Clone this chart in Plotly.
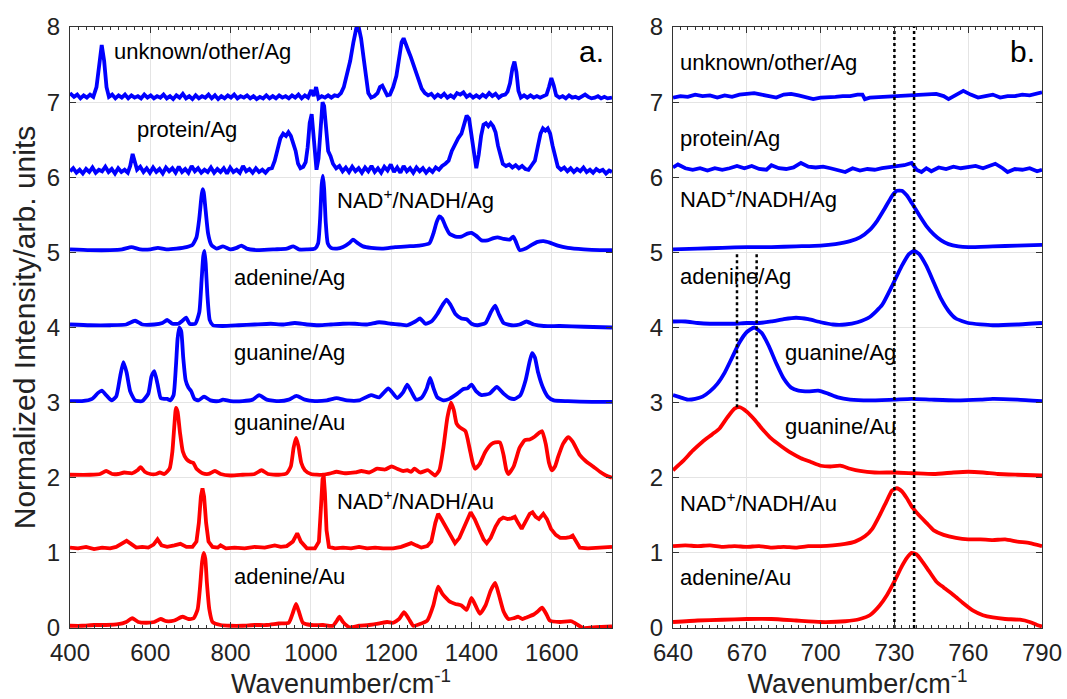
import plotly.graph_objects as go

BLUE = "#0000ff"
RED = "#ff0000"

# ---------------- panel a (400-1750 cm-1) ----------------
unk_a_x = [400,410,418,426,434,442,450,458,466,472,479,485,491,497,505,513,521,529,537,545,553,561,569,577,585,593,601,609,617,625,633,641,649,657,665,673,681,689,697,705,713,721,729,737,745,753,761,769,777,785,793,801,809,817,825,833,841,849,857,865,873,881,889,897,905,913,921,929,937,945,953,961,969,977,985,993,1001,1007,1013,1019,1027,1035,1043,1051,1059,1067,1075,1082,1090,1098,1106,1113,1119,1125,1131,1137,1143,1150,1158,1166,1172,1178,1184,1190,1197,1205,1213,1220,1226,1231,1237,1243,1249,1255,1261,1268,1276,1284,1292,1300,1308,1316,1324,1332,1340,1348,1356,1364,1372,1380,1388,1396,1404,1412,1420,1428,1436,1444,1452,1460,1468,1476,1484,1490,1496,1502,1507,1512,1517,1523,1531,1539,1547,1555,1563,1571,1579,1587,1593,1599,1605,1611,1619,1627,1635,1643,1651,1659,1667,1675,1683,1691,1699,1707,1715,1723,1731,1739,1750]
unk_a_y = [7.12,7.07,7.10,7.05,7.09,7.06,7.10,7.07,7.20,7.50,7.76,7.55,7.20,7.07,7.10,7.05,7.09,7.06,7.10,7.05,7.09,7.06,7.08,7.05,7.10,7.06,7.09,7.05,7.08,7.06,7.10,7.05,7.08,7.04,7.09,7.06,7.11,7.05,7.08,7.04,7.09,7.05,7.08,7.06,7.10,7.05,7.09,7.04,7.08,7.05,7.09,7.06,7.10,7.05,7.08,7.06,7.09,7.05,7.08,7.04,7.07,7.05,7.09,7.05,7.08,7.05,7.09,7.06,7.08,7.05,7.09,7.06,7.10,7.05,7.09,7.06,7.16,7.08,7.20,7.05,7.08,7.06,7.09,7.06,7.09,7.08,7.12,7.20,7.38,7.55,7.80,7.98,8.00,7.85,7.60,7.35,7.12,7.06,7.08,7.12,7.20,7.22,7.15,7.09,7.10,7.20,7.35,7.60,7.80,7.85,7.78,7.68,7.60,7.50,7.42,7.30,7.18,7.12,7.09,7.11,7.06,7.10,7.07,7.11,7.06,7.09,7.06,7.12,7.10,7.13,7.07,7.10,7.06,7.09,7.06,7.10,7.07,7.12,7.08,7.11,7.06,7.09,7.10,7.14,7.25,7.45,7.54,7.40,7.15,7.06,7.09,7.06,7.09,7.06,7.08,7.06,7.08,7.10,7.20,7.32,7.22,7.09,7.06,7.08,7.05,7.09,7.06,7.07,7.05,7.08,7.10,7.07,7.05,7.06,7.08,7.05,7.07,7.05,7.06]

prot_a_x = [400,408,416,424,432,440,448,456,464,472,480,488,496,504,512,520,528,536,544,550,556,561,567,575,583,591,599,607,615,623,631,639,647,655,663,671,679,687,695,703,711,719,727,735,743,751,759,767,775,783,791,799,807,815,823,831,839,847,855,863,871,879,887,895,903,910,917,924,931,938,944,950,956,962,968,974,981,987,992,997,1002,1006,1010,1014,1019,1024,1029,1033,1038,1043,1049,1055,1063,1071,1079,1087,1095,1103,1111,1119,1127,1135,1143,1151,1159,1167,1175,1183,1191,1199,1207,1215,1223,1231,1239,1247,1255,1263,1271,1279,1287,1295,1303,1311,1319,1327,1335,1343,1351,1359,1367,1375,1382,1388,1394,1400,1406,1412,1418,1424,1430,1436,1442,1448,1454,1460,1466,1472,1478,1486,1494,1502,1510,1518,1526,1534,1542,1550,1558,1565,1572,1578,1584,1590,1596,1602,1608,1615,1623,1631,1639,1647,1655,1663,1671,1679,1687,1695,1703,1711,1719,1727,1735,1743,1750]
prot_a_y = [6.08,6.12,6.06,6.10,6.05,6.11,6.07,6.13,6.06,6.10,6.08,6.14,6.07,6.11,6.05,6.12,6.07,6.10,6.06,6.15,6.31,6.20,6.10,6.14,6.07,6.12,6.06,6.13,6.07,6.11,6.05,6.13,6.08,6.12,6.06,6.14,6.07,6.11,6.06,6.15,6.08,6.12,6.06,6.10,6.07,6.13,6.06,6.11,6.07,6.12,6.05,6.13,6.07,6.10,6.06,6.15,6.08,6.11,6.06,6.12,6.07,6.10,6.06,6.11,6.12,6.22,6.40,6.52,6.58,6.55,6.60,6.55,6.45,6.35,6.18,6.12,6.14,6.20,6.40,6.72,6.84,6.60,6.25,6.10,6.25,6.70,7.00,6.95,6.60,6.35,6.28,6.18,6.12,6.15,6.08,6.13,6.07,6.14,6.08,6.12,6.06,6.13,6.08,6.15,6.07,6.12,6.06,6.14,6.09,6.17,6.07,6.13,6.06,6.15,6.08,6.12,6.06,6.13,6.08,6.12,6.06,6.11,6.07,6.13,6.10,6.15,6.18,6.22,6.35,6.45,6.52,6.58,6.70,6.82,6.78,6.55,6.32,6.12,6.30,6.55,6.70,6.72,6.68,6.72,6.68,6.60,6.42,6.28,6.18,6.15,6.17,6.13,6.16,6.12,6.15,6.11,6.10,6.16,6.22,6.40,6.58,6.65,6.62,6.65,6.58,6.42,6.28,6.14,6.10,6.13,6.08,6.12,6.07,6.11,6.08,6.13,6.07,6.10,6.06,6.11,6.08,6.10,6.05,6.09,6.07]

nadag_a_x = [400,450,500,530,553,575,600,619,640,665,690,705,715,722,727,730,733,738,744,752,765,781,800,815,827,840,870,910,940,956,970,990,1010,1018,1023,1027,1030,1033,1037,1042,1050,1065,1080,1095,1105,1115,1130,1150,1180,1210,1240,1270,1295,1305,1313,1320,1327,1335,1345,1360,1375,1390,1400,1412,1425,1440,1455,1465,1480,1495,1504,1510,1520,1535,1550,1565,1580,1595,1615,1640,1680,1720,1750]
nadag_a_y = [5.04,5.03,5.03,5.04,5.07,5.04,5.04,5.06,5.04,5.05,5.07,5.10,5.20,5.45,5.72,5.84,5.80,5.55,5.25,5.10,5.05,5.08,5.04,5.06,5.09,5.05,5.03,5.04,5.05,5.08,5.04,5.04,5.05,5.12,5.45,5.90,6.02,5.85,5.40,5.12,5.06,5.05,5.07,5.12,5.17,5.13,5.08,5.06,5.05,5.07,5.08,5.09,5.12,5.25,5.40,5.48,5.45,5.35,5.25,5.21,5.21,5.25,5.26,5.22,5.16,5.16,5.19,5.20,5.18,5.17,5.21,5.15,5.03,5.05,5.10,5.14,5.15,5.13,5.09,5.06,5.04,5.03,5.03]

adeag_a_x = [400,450,500,540,562,580,610,630,642,655,670,680,689,698,712,722,728,732,735,738,742,748,756,780,820,860,900,930,960,990,1020,1050,1080,1110,1140,1170,1200,1220,1240,1260,1272,1285,1300,1315,1328,1338,1348,1360,1375,1388,1400,1415,1435,1448,1459,1468,1480,1500,1520,1537,1555,1580,1620,1680,1750]
adeag_a_y = [4.04,4.03,4.03,4.04,4.09,4.04,4.04,4.06,4.10,4.05,4.05,4.09,4.13,4.05,4.05,4.20,4.65,4.95,5.02,4.85,4.45,4.10,4.03,4.02,4.03,4.04,4.05,4.04,4.06,4.04,4.03,4.04,4.05,4.05,4.04,4.07,4.05,4.04,4.03,4.08,4.12,4.05,4.08,4.18,4.30,4.37,4.30,4.18,4.12,4.11,4.05,4.03,4.06,4.20,4.29,4.18,4.06,4.03,4.04,4.08,4.04,4.02,4.02,4.01,4.00]

guaag_a_x = [400,430,455,470,479,490,503,515,525,533,541,550,562,580,595,603,610,618,626,635,642,650,658,664,668,672,677,682,688,695,702,710,720,734,750,770,781,800,830,855,871,890,920,945,964,985,1010,1040,1064,1090,1120,1150,1170,1193,1215,1230,1240,1250,1262,1275,1288,1297,1305,1315,1330,1345,1365,1380,1390,1400,1412,1425,1445,1463,1480,1495,1508,1522,1535,1545,1551,1558,1566,1578,1590,1605,1640,1700,1750]
guaag_a_y = [3.02,3.02,3.05,3.13,3.16,3.10,3.03,3.08,3.35,3.54,3.40,3.15,3.03,3.02,3.12,3.35,3.42,3.25,3.06,3.05,3.05,3.03,3.10,3.50,3.85,4.00,3.95,3.60,3.30,3.20,3.15,3.05,3.03,3.08,3.03,3.02,3.04,3.02,3.02,3.04,3.10,3.04,3.02,3.04,3.09,3.04,3.02,3.03,3.06,3.03,3.03,3.10,3.07,3.19,3.06,3.14,3.24,3.15,3.04,3.06,3.18,3.33,3.20,3.07,3.03,3.05,3.12,3.18,3.19,3.24,3.15,3.10,3.12,3.21,3.12,3.06,3.05,3.10,3.30,3.55,3.66,3.60,3.40,3.20,3.08,3.03,3.02,3.01,3.01]

guaau_a_x = [400,450,475,490,505,520,535,555,568,576,586,600,615,624,635,648,655,660,664,668,674,681,690,700,707,715,730,745,761,775,800,830,860,877,893,920,940,950,957,963,969,976,985,1000,1030,1050,1064,1085,1110,1126,1145,1165,1185,1201,1215,1230,1240,1250,1258,1272,1292,1309,1320,1330,1340,1349,1356,1363,1371,1385,1395,1403,1409,1420,1435,1450,1459,1471,1480,1487,1492,1505,1520,1533,1545,1558,1569,1576,1585,1593,1600,1608,1616,1628,1641,1652,1662,1670,1685,1703,1720,1735,1750]
guaau_a_y = [2.04,2.04,2.05,2.09,2.05,2.05,2.07,2.06,2.10,2.14,2.08,2.05,2.05,2.07,2.05,2.12,2.35,2.70,2.93,2.88,2.60,2.35,2.25,2.21,2.20,2.12,2.06,2.05,2.09,2.05,2.03,2.04,2.05,2.10,2.05,2.04,2.06,2.15,2.40,2.53,2.42,2.20,2.10,2.05,2.04,2.06,2.08,2.06,2.07,2.09,2.07,2.12,2.11,2.15,2.12,2.09,2.10,2.08,2.12,2.07,2.10,2.03,2.10,2.40,2.80,3.00,2.90,2.72,2.67,2.62,2.40,2.20,2.12,2.18,2.35,2.45,2.47,2.47,2.30,2.10,2.05,2.15,2.40,2.50,2.51,2.55,2.60,2.62,2.45,2.20,2.10,2.15,2.28,2.45,2.54,2.48,2.38,2.30,2.22,2.15,2.08,2.03,2.00]

nadau_a_x = [400,420,440,460,480,500,515,530,541,552,565,580,595,608,618,628,642,660,675,690,705,715,721,726,730,734,739,745,755,768,775,788,810,835,860,885,910,925,940,955,966,975,990,1010,1020,1025,1029,1032,1035,1039,1045,1060,1080,1100,1120,1140,1160,1180,1205,1225,1240,1250,1262,1275,1290,1300,1310,1317,1325,1340,1352,1359,1370,1385,1398,1408,1420,1430,1438,1448,1460,1470,1479,1490,1500,1508,1516,1525,1535,1545,1552,1560,1568,1579,1588,1598,1610,1621,1635,1645,1652,1660,1670,1690,1710,1730,1750]
nadau_a_y = [1.07,1.06,1.08,1.05,1.07,1.06,1.08,1.13,1.16,1.12,1.07,1.08,1.07,1.11,1.18,1.10,1.08,1.10,1.12,1.08,1.08,1.15,1.40,1.75,1.86,1.75,1.40,1.15,1.08,1.07,1.10,1.06,1.07,1.06,1.08,1.07,1.10,1.08,1.09,1.15,1.26,1.15,1.06,1.06,1.15,1.60,1.98,2.02,1.80,1.30,1.08,1.06,1.07,1.06,1.08,1.06,1.07,1.06,1.06,1.08,1.11,1.13,1.10,1.07,1.09,1.15,1.40,1.52,1.45,1.30,1.18,1.13,1.20,1.40,1.54,1.45,1.30,1.18,1.13,1.20,1.35,1.44,1.47,1.45,1.46,1.48,1.40,1.32,1.42,1.52,1.54,1.48,1.45,1.52,1.45,1.32,1.24,1.20,1.20,1.21,1.23,1.15,1.07,1.06,1.07,1.07,1.08]

adeau_a_x = [400,430,460,490,520,540,555,570,590,610,626,640,660,680,695,708,718,724,729,733,737,741,747,755,775,800,830,860,890,920,945,955,963,970,980,1000,1030,1055,1065,1071,1080,1096,1120,1145,1171,1190,1205,1220,1232,1244,1255,1270,1290,1305,1317,1328,1340,1346,1360,1375,1388,1400,1410,1421,1435,1448,1459,1468,1480,1492,1505,1516,1527,1537,1555,1565,1576,1587,1595,1620,1649,1665,1678,1710,1750]
adeau_a_y = [0.03,0.03,0.04,0.04,0.05,0.08,0.13,0.08,0.07,0.08,0.12,0.09,0.10,0.15,0.12,0.13,0.25,0.55,0.88,1.00,0.92,0.60,0.25,0.08,0.04,0.03,0.03,0.04,0.04,0.06,0.07,0.20,0.32,0.22,0.07,0.04,0.04,0.03,0.10,0.15,0.08,0.01,0.03,0.04,0.06,0.08,0.07,0.12,0.21,0.12,0.03,0.05,0.10,0.30,0.55,0.45,0.38,0.35,0.32,0.30,0.24,0.40,0.30,0.19,0.30,0.50,0.60,0.45,0.22,0.12,0.13,0.15,0.12,0.14,0.18,0.22,0.27,0.18,0.10,0.08,0.09,0.04,0.00,0.01,0.02]

# ---------------- panel b (640-790 cm-1) ----------------
unk_b_x = [640,643,646,649,652,655,658,661,664,667,670,673,676,679,682,685,688,691,694,697,700,703,706,709,712,715,717,718,720,747,750,752,755,758,761,764,767,770,773,776,779,782,785,788,790]
unk_b_y = [7.06,7.08,7.07,7.10,7.08,7.09,7.06,7.09,7.07,7.10,7.11,7.12,7.10,7.08,7.06,7.10,7.11,7.09,7.06,7.04,7.06,7.06,7.07,7.08,7.08,7.10,7.10,7.04,7.06,7.11,7.08,7.04,7.10,7.15,7.10,7.06,7.08,7.10,7.06,7.08,7.08,7.10,7.09,7.12,7.13]

prot_b_x = [640,642,645,648,651,654,657,660,663,666,669,672,675,678,680,683,686,689,692,695,698,701,704,707,710,713,716,719,722,725,728,731,734,737,739,741,743,745,748,751,754,757,760,763,766,769,771,774,776,779,782,785,788,790]
prot_b_y = [6.13,6.17,6.12,6.10,6.12,6.09,6.12,6.10,6.12,6.15,6.12,6.15,6.11,6.10,6.16,6.12,6.11,6.13,6.19,6.14,6.13,6.14,6.12,6.10,6.07,6.12,6.09,6.11,6.10,6.12,6.13,6.15,6.16,6.19,6.10,6.07,6.12,6.08,6.13,6.11,6.14,6.12,6.13,6.15,6.12,6.15,6.18,6.12,6.07,6.11,6.10,6.12,6.08,6.10]

nadag_b_x = [640,650,660,670,680,690,700,706,712,716,720,723,726,729,731,733,735,737,740,743,746,749,752,756,760,770,780,790]
nadag_b_y = [5.04,5.05,5.06,5.07,5.07,5.08,5.09,5.11,5.15,5.20,5.30,5.42,5.58,5.75,5.82,5.82,5.76,5.66,5.50,5.35,5.24,5.16,5.11,5.08,5.07,5.08,5.09,5.10]

adeag_b_x = [640,645,650,655,660,665,670,675,680,685,690,695,700,705,710,715,720,725,729,733,736,738,740,743,746,749,752,755,760,770,780,790]
adeag_b_y = [4.08,4.08,4.06,4.05,4.05,4.05,4.06,4.06,4.08,4.11,4.13,4.11,4.07,4.04,4.04,4.07,4.14,4.30,4.55,4.82,4.98,5.02,4.98,4.82,4.60,4.38,4.22,4.12,4.06,4.03,4.04,4.06]

guaag_b_x = [640,643,646,649,652,655,658,661,664,667,670,673,676,679,682,685,688,691,695,699,703,707,712,720,730,737,745,755,765,770,780,790]
guaag_b_y = [3.10,3.07,3.04,3.05,3.08,3.15,3.25,3.40,3.60,3.80,3.94,4.00,3.93,3.75,3.52,3.32,3.20,3.16,3.15,3.16,3.12,3.07,3.04,3.03,3.04,3.05,3.04,3.03,3.04,3.05,3.04,3.02]

guaau_b_x = [640,644,648,652,656,659,662,665,667,670,673,676,680,684,688,692,696,700,704,708,712,716,722,730,738,746,754,760,766,772,780,790]
guaau_b_y = [2.10,2.22,2.36,2.48,2.58,2.66,2.80,2.92,2.94,2.88,2.78,2.66,2.52,2.42,2.33,2.26,2.21,2.16,2.15,2.16,2.12,2.09,2.07,2.07,2.06,2.05,2.07,2.08,2.07,2.05,2.04,2.03]

nadau_b_x = [640,645,650,655,660,665,670,675,680,685,690,695,700,705,710,714,718,721,724,727,729,731,733,735,737,740,743,746,750,755,760,765,770,775,780,785,790]
nadau_b_y = [1.09,1.10,1.09,1.10,1.08,1.09,1.08,1.09,1.07,1.08,1.07,1.09,1.09,1.10,1.12,1.15,1.22,1.32,1.50,1.70,1.83,1.86,1.82,1.73,1.62,1.50,1.40,1.30,1.24,1.20,1.18,1.18,1.17,1.18,1.15,1.13,1.09]

adeau_b_x = [640,650,660,670,680,690,700,710,716,720,724,727,730,733,735,737,739,741,744,747,750,754,758,762,766,770,775,781,785,788,790]
adeau_b_y = [0.08,0.10,0.11,0.12,0.12,0.10,0.08,0.09,0.12,0.17,0.30,0.44,0.62,0.82,0.93,1.00,0.98,0.90,0.76,0.62,0.54,0.44,0.33,0.23,0.17,0.14,0.12,0.11,0.08,0.04,0.02]

# labels: (text, x_left, y_center)
labels_a_text = ["unknown/other/Ag", "protein/Ag", "NAD<sup>+</sup>/NADH/Ag", "adenine/Ag",
                 "guanine/Ag", "guanine/Au", "NAD<sup>+</sup>/NADH/Au", "adenine/Au"]
labels_a_x = [505, 562, 1060, 803, 803, 803, 1060, 803]
labels_a_y = [7.67, 6.64, 5.71, 4.67, 3.67, 2.73, 1.71, 0.68]
labels_b_text = labels_a_text
labels_b_x = [642, 642, 642, 642, 684.7, 684.7, 642, 642]
labels_b_y = [7.53, 6.51, 5.73, 4.68, 3.67, 2.68, 1.68, 0.67]

# dotted reference lines in panel b
vlines_full_x = [730, 738]
vlines_full_y = [0, 8]
vlines_short_x = [666, 674]
vlines_short_y = [2.94, 5.0]

x_ticks_a = [400, 600, 800, 1000, 1200, 1400, 1600]
x_ticks_b = [640, 670, 700, 730, 760, 790]
y_ticks = [0, 1, 2, 3, 4, 5, 6, 7, 8]

series_a = [(unk_a_x, unk_a_y, BLUE, "linear"), (prot_a_x, prot_a_y, BLUE, "linear"),
            (nadag_a_x, nadag_a_y, BLUE, "spline"), (adeag_a_x, adeag_a_y, BLUE, "spline"),
            (guaag_a_x, guaag_a_y, BLUE, "spline"), (guaau_a_x, guaau_a_y, RED, "spline"),
            (nadau_a_x, nadau_a_y, RED, "linear"), (adeau_a_x, adeau_a_y, RED, "spline")]
series_b = [(unk_b_x, unk_b_y, BLUE, "linear"), (prot_b_x, prot_b_y, BLUE, "linear"),
            (nadag_b_x, nadag_b_y, BLUE, "spline"), (adeag_b_x, adeag_b_y, BLUE, "spline"),
            (guaag_b_x, guaag_b_y, BLUE, "spline"), (guaau_b_x, guaau_b_y, RED, "spline"),
            (nadau_b_x, nadau_b_y, RED, "spline"), (adeau_b_x, adeau_b_y, RED, "spline")]

fig = go.Figure()
for xs, ys, col, shp in series_a:
    fig.add_trace(go.Scatter(x=xs, y=ys, mode="lines", xaxis="x", yaxis="y",
                             line=dict(color=col, width=3.8, shape=shp, smoothing=0.5),
                             showlegend=False, hoverinfo="skip"))
for xs, ys, col, shp in series_b:
    fig.add_trace(go.Scatter(x=xs, y=ys, mode="lines", xaxis="x2", yaxis="y2",
                             line=dict(color=col, width=3.8, shape=shp, smoothing=0.5),
                             showlegend=False, hoverinfo="skip"))

for vx in vlines_full_x:
    fig.add_trace(go.Scatter(x=[vx, vx], y=vlines_full_y, mode="lines", xaxis="x2", yaxis="y2",
                             line=dict(color="black", width=2.5, dash="dot"),
                             showlegend=False, hoverinfo="skip"))
for vx in vlines_short_x:
    fig.add_trace(go.Scatter(x=[vx, vx], y=vlines_short_y, mode="lines", xaxis="x2", yaxis="y2",
                             line=dict(color="black", width=2.5, dash="dot"),
                             showlegend=False, hoverinfo="skip"))

FONT = "Liberation Sans, Arial, Helvetica, sans-serif"
ann = []
for t, x, y in zip(labels_a_text, labels_a_x, labels_a_y):
    ann.append(dict(text=t, x=x, y=y, xref="x", yref="y", xanchor="left", yanchor="middle",
                    showarrow=False, font=dict(size=22, color="black", family=FONT)))
for t, x, y in zip(labels_b_text, labels_b_x, labels_b_y):
    ann.append(dict(text=t, x=x, y=y, xref="x2", yref="y2", xanchor="left", yanchor="middle",
                    showarrow=False, font=dict(size=22, color="black", family=FONT)))
ann.append(dict(text="a.", x=1700, y=7.68, xref="x", yref="y", xanchor="center", yanchor="middle",
                showarrow=False, font=dict(size=30, color="black", family=FONT)))
ann.append(dict(text="b.", x=782, y=7.68, xref="x2", yref="y2", xanchor="center", yanchor="middle",
                showarrow=False, font=dict(size=30, color="black", family=FONT)))

axis_common = dict(showline=True, linecolor="#333333", linewidth=1, mirror="ticks",
                   ticks="inside", ticklen=6, tickcolor="#333333", tickwidth=1,
                   showgrid=True, gridcolor="#e4e4e4", gridwidth=1, zeroline=False,
                   tickfont=dict(size=24, color="#222222", family=FONT), automargin=False)

fig.update_layout(
    width=1067, height=699,
    margin=dict(l=70, r=25, t=27, b=71),
    paper_bgcolor="white", plot_bgcolor="white",
    font=dict(family=FONT, color="#222222"),
    annotations=ann,
    xaxis=dict(domain=[0, 0.5576], range=[400, 1750], tickvals=x_ticks_a, ticklabelstandoff=3,
               minor=dict(ticks="inside", ticklen=3, dtick=20, tick0=400, tickcolor="#333333", showgrid=False),
               title=dict(text="Wavenumber/cm<sup>-1</sup>", font=dict(size=27, color="#222222"), standoff=4),
               anchor="y", **axis_common),
    yaxis=dict(domain=[0, 1], range=[0, 8], tickvals=y_ticks, anchor="x", ticklabelstandoff=4,
               title=dict(text="Normalized Intensity/arb. units", font=dict(size=30, color="#222222"), standoff=2),
               **axis_common),
    xaxis2=dict(domain=[0.6204, 1], range=[640, 790], tickvals=x_ticks_b, ticklabelstandoff=3,
                minor=dict(ticks="inside", ticklen=3, dtick=3, tick0=640, tickcolor="#333333", showgrid=False),
                title=dict(text="Wavenumber/cm<sup>-1</sup>", font=dict(size=27, color="#222222"), standoff=4),
                anchor="y2", **axis_common),
    yaxis2=dict(domain=[0, 1], range=[0, 8], tickvals=y_ticks, anchor="x2", ticklabelstandoff=4, **axis_common),
)

fig.write_html("out.html")
